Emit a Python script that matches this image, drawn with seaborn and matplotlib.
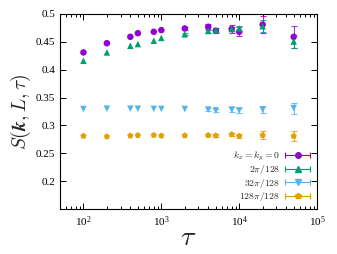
import numpy as np
import pandas as pd
import matplotlib
matplotlib.use("Agg")
import matplotlib.pyplot as plt
import seaborn as sns
from matplotlib.container import ErrorbarContainer
from matplotlib.legend_handler import HandlerErrorbar
from matplotlib.ticker import FixedLocator, FuncFormatter, LogLocator, NullFormatter

tau = [100, 200, 400, 500, 800, 1000, 2000, 4000, 5000, 8000, 10000, 20000, 50000]
labels = [r"$k_x=k_y=0$", r"$2\pi/128$", r"$32\pi/128$", r"$128\pi/128$"]
s0 = [0.431, 0.4475, 0.459, 0.4655, 0.468, 0.471, 0.474, 0.477, 0.470, 0.473, 0.468, 0.481, 0.459]
e0 = [0.0, 0.0, 0.0, 0.0, 0.0, 0.0, 0.002, 0.005, 0.005, 0.007, 0.008, 0.015, 0.02]
s1 = [0.416, 0.431, 0.443, 0.446, 0.452, 0.457, 0.4636, 0.4696, 0.471, 0.473, 0.474, 0.478, 0.4505]
e1 = [0.0, 0.0, 0.0, 0.0, 0.0, 0.0, 0.002, 0.003, 0.004, 0.004, 0.004, 0.011, 0.012]
s2 = [0.3295, 0.3300, 0.3300, 0.3300, 0.3297, 0.3296, 0.3295, 0.3285, 0.327, 0.3285, 0.327, 0.3285, 0.331]
e2 = [0.0, 0.0, 0.0, 0.0, 0.0, 0.0, 0.0, 0.002, 0.002, 0.004, 0.004, 0.006, 0.010]
s3 = [0.281, 0.280, 0.2815, 0.2822, 0.2825, 0.2815, 0.2818, 0.2822, 0.2818, 0.2838, 0.281, 0.2823, 0.2808]
e3 = [0.0, 0.0, 0.0, 0.0, 0.0, 0.0, 0.0, 0.002, 0.002, 0.003, 0.003, 0.007, 0.009]
yticks = [0.2, 0.25, 0.3, 0.35, 0.4, 0.45, 0.5]
xticks = [1e2, 1e3, 1e4, 1e5]

colors = ["#9400D3", "#009E73", "#56B4E9", "#E69F00"]
markers = ["o", "^", "v", "p"]

vals = [s0, s1, s2, s3]
errs = [e0, e1, e2, e3]
df = pd.DataFrame({
    "tau": tau * 4,
    "S": sum(vals, []),
    "err": sum(errs, []),
    "k": sum([[l] * len(tau) for l in labels], []),
})

sns.set_theme(style="ticks")
plt.rcParams["font.family"] = ["Liberation Serif", "DejaVu Serif"]
plt.rcParams["mathtext.fontset"] = "cm"

fig = plt.figure(figsize=(3.37, 2.54), dpi=100)
ax = fig.add_axes([0.178, 0.177, 0.763, 0.768])

handles = []
for lab, c, m in zip(labels, colors, markers):
    sub = df[(df["k"] == lab) & (df["err"] > 0)]
    ax.errorbar(sub["tau"], sub["S"], yerr=sub["err"], fmt="none", ecolor=c,
                elinewidth=0.8, capsize=2, capthick=0.8, zorder=2, alpha=0.8)
    h = ax.errorbar([np.nan], [np.nan], xerr=[1], fmt=m, color=c, ms=4,
                    elinewidth=0.8, capsize=2.5, capthick=0.8)
    handles.append(h)

sns.scatterplot(data=df, x="tau", y="S", hue="k", style="k", palette=colors,
                markers=markers, s=22, linewidth=0, ax=ax, legend=False, zorder=3)

ax.set_xscale("log")
ax.set_xlim(50, 1e5)
ax.set_ylim(0.15, 0.5)
ax.yaxis.set_major_locator(FixedLocator(yticks))
ax.yaxis.set_major_formatter(FuncFormatter(lambda v, p: f"{v:g}"))
ax.xaxis.set_major_locator(FixedLocator(xticks))
ax.xaxis.set_minor_locator(LogLocator(base=10, subs=np.arange(2, 10)))
ax.xaxis.set_minor_formatter(NullFormatter())
ax.tick_params(which="both", direction="in", top=True, right=True, labelsize=8,
               colors="black", width=0.7)
ax.tick_params(which="major", length=4)
ax.tick_params(which="minor", length=2)
for sp in ax.spines.values():
    sp.set_color("black")
    sp.set_linewidth(0.8)

ax.set_xlabel(r"$\tau$", fontsize=20, labelpad=-2)
ax.set_ylabel(r"$S(\boldsymbol{k},L,\tau)$", fontsize=14, labelpad=2)

leg = ax.legend(handles, labels, loc="lower right", markerfirst=False, frameon=False,
                fontsize=7, handlelength=2.8, handletextpad=0.4, labelspacing=0.05,
                borderaxespad=0.4, borderpad=0.2,
                handler_map={ErrorbarContainer: HandlerErrorbar(xerr_size=1.3)})

fig.savefig("out.png", dpi=100)
